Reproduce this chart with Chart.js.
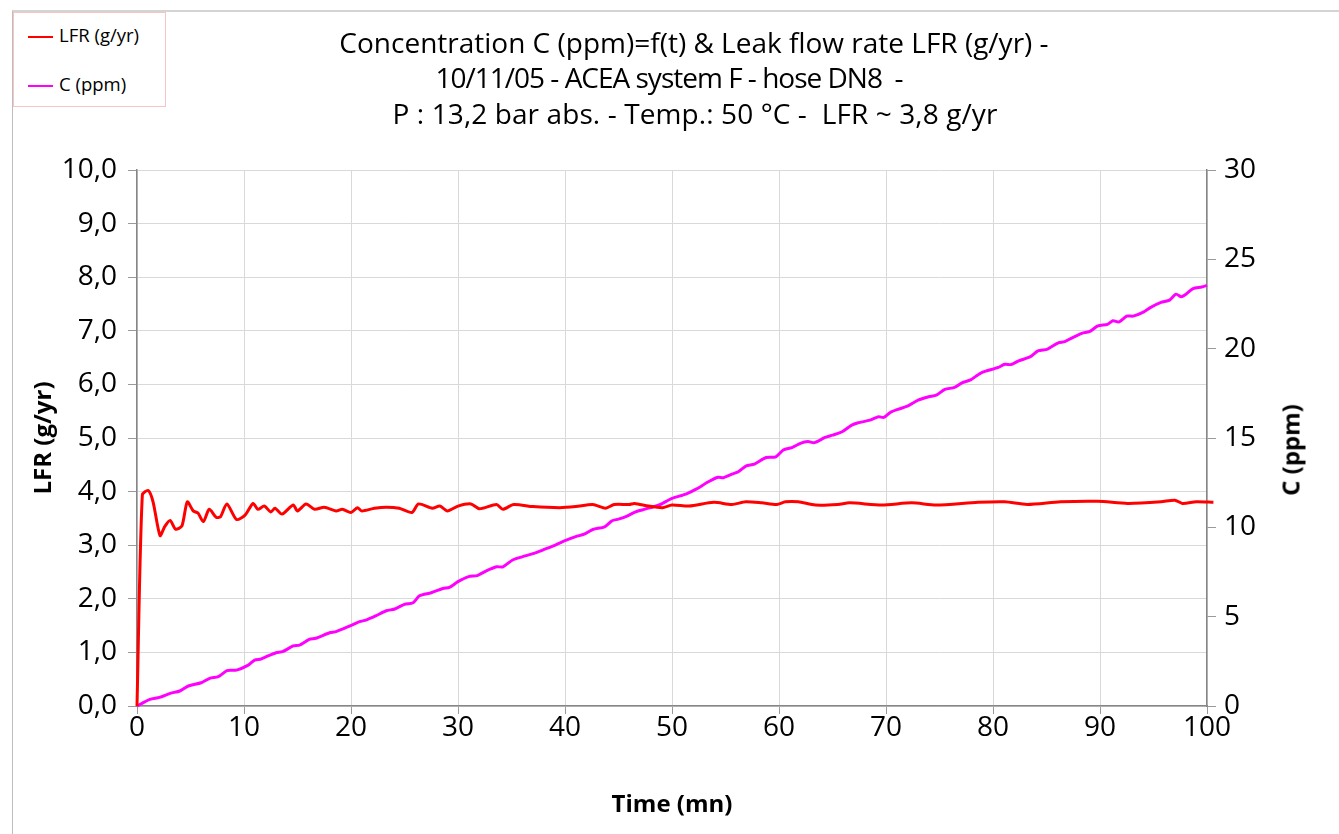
<!DOCTYPE html>
<html>
<head>
<meta charset="utf-8">
<script src="https://cdn.jsdelivr.net/npm/chart.js@4.4.1/dist/chart.umd.min.js"></script>
<style>
  html, body { margin: 0; padding: 0; background: #fff; }
  #wrap { position: relative; width: 1339px; height: 834px; overflow: hidden; font-family: "Open Sans", sans-serif; }
  #frame { position: absolute; left: 12px; top: 10px; right: -2px; bottom: -2px; border-top: 2px solid #d4d4d4; border-left: 1px solid #bdbdbd; }
  .tline { position: absolute; width: 1000px; text-align: center; font-size: 28px; line-height: 36px; color: #000; white-space: pre; }
  #legend { position: absolute; left: 13px; top: 12px; width: 151px; height: 93px; border: 1px solid #f6c4c4; background: #fff; }
  .item { position: absolute; left: 14px; font-size: 18.5px; line-height: 24px; color: #000; }
  .item span.sw { display: inline-block; width: 25px; height: 2.5px; vertical-align: middle; margin-right: 6px; }
  #ctitle { position: absolute; left: 1290px; top: 450px; transform: translate(-50%, -50%) rotate(-90deg); font-weight: bold; font-size: 24px; white-space: nowrap; }
  canvas { position: absolute; left: 0; top: 0; }
</style>
</head>
<body>
<div id="wrap">
  <div id="frame"></div>
  <canvas id="chart" width="1339" height="834"></canvas>
  <div class="tline" style="left: 194px; top: 24px;">Concentration C (ppm)=f(t) &amp; Leak flow rate LFR (g/yr) -</div>
  <div class="tline" style="left: 169px; top: 59px; letter-spacing: -1px;">10/11/05 - ACEA system F - hose DN8  -</div>
  <div class="tline" style="left: 195px; top: 95px; letter-spacing: 0.1px;">P : 13,2 bar abs. - Temp.: 50 °C -  LFR ~ 3,8 g/yr</div>
  <div id="legend">
    <div class="item" style="top: 10px;"><span class="sw" style="background:#ff0000"></span>LFR (g/yr)</div>
    <div class="item" style="top: 59px;"><span class="sw" style="background:#ff00ff"></span>C (ppm)</div>
  </div>
  <div id="ctitle">C (ppm)</div>
</div>
<script>
// time (mn) and leak flow rate LFR (g/yr)
const lfrTime = [
  0, 0.5, 1.05, 1.5, 2.15, 2.6, 3.1, 3.6, 4.2, 4.7,
  5.25, 5.7, 6.2, 6.75, 7.4, 7.8, 8.4, 9.3, 10.1, 10.85,
  11.3, 11.9, 12.5, 12.9, 13.55, 14.6, 15.0, 15.8, 16.6, 17.5,
  18.6, 19.2, 20.0, 20.6, 21.0, 22.2, 23.3, 24.5, 25.7, 26.3,
  27.6, 28.3, 29.0, 30.0, 31.2, 32.0, 33.6, 34.2, 35.2, 37.0,
  39.5, 41.0, 42.6, 43.8, 44.6, 46.0, 46.5, 47.8, 49.1, 50.0,
  51.6, 53.9, 55.6, 56.9, 58.4, 59.8, 60.6, 61.8, 63.4, 65.5,
  66.6, 69.6, 72.4, 74.7, 78.6, 81.1, 83.2, 86.3, 89.8, 92.6,
  95.7, 97.0, 97.7, 99.0, 100.6
];
const lfrValues = [
  0, 3.94, 4.02, 3.81, 3.18, 3.35, 3.46, 3.30, 3.36, 3.81,
  3.64, 3.60, 3.44, 3.67, 3.52, 3.53, 3.77, 3.48, 3.56, 3.78,
  3.67, 3.73, 3.62, 3.69, 3.58, 3.75, 3.64, 3.77, 3.67, 3.71,
  3.64, 3.67, 3.61, 3.70, 3.64, 3.69, 3.71, 3.69, 3.61, 3.77,
  3.69, 3.73, 3.64, 3.73, 3.77, 3.68, 3.76, 3.67, 3.76, 3.72,
  3.70, 3.72, 3.76, 3.69, 3.76, 3.76, 3.78, 3.73, 3.70, 3.75,
  3.73, 3.80, 3.76, 3.81, 3.79, 3.76, 3.81, 3.81, 3.75, 3.76,
  3.79, 3.75, 3.79, 3.75, 3.80, 3.81, 3.76, 3.81, 3.82, 3.78,
  3.81, 3.84, 3.78, 3.81, 3.80
];

// time (mn) and concentration C (ppm)
const cTime = [
  0, 1.2, 2.1, 3.1, 4.0, 4.8, 6.0, 6.8, 7.6, 8.4,
  9.3, 10.4, 11.0, 11.6, 12.1, 13.0, 13.6, 14.6, 15.2, 16.1,
  16.7, 18.0, 18.6, 19.9, 20.8, 21.4, 22.3, 23.3, 24.1, 25.0,
  25.8, 26.4, 27.5, 28.6, 29.2, 30.0, 31.0, 31.8, 32.6, 33.6,
  34.2, 35.1, 36.0, 37.1, 37.9, 39.1, 40.0, 41.0, 41.8, 42.6,
  43.7, 44.4, 45.0, 45.8, 46.6, 47.5, 48.8, 50.0, 51.3, 52.3,
  53.4, 54.3, 54.8, 55.6, 56.2, 56.9, 57.7, 58.8, 59.7, 60.4,
  61.2, 62.0, 62.7, 63.3, 64.3, 65.0, 65.9, 66.8, 67.4, 68.5,
  69.3, 69.8, 70.4, 71.1, 72.0, 73.0, 74.0, 74.7, 75.5, 76.4,
  77.1, 77.9, 78.9, 80.5, 81.1, 81.7, 82.4, 83.5, 84.2, 85.1,
  86.1, 86.7, 87.3, 88.3, 89.0, 89.8, 90.7, 91.2, 91.8, 92.5,
  93.1, 94.1, 94.7, 95.7, 96.5, 97.1, 97.6, 98.0, 98.7, 99.5,
  100.0, 100.7
];
const cValues = [
  0, 0.37, 0.48, 0.71, 0.84, 1.12, 1.30, 1.55, 1.64, 1.98,
  2.01, 2.29, 2.57, 2.63, 2.76, 2.98, 3.04, 3.36, 3.41, 3.73,
  3.79, 4.10, 4.16, 4.48, 4.72, 4.81, 5.04, 5.33, 5.43, 5.69,
  5.78, 6.17, 6.34, 6.58, 6.64, 6.96, 7.24, 7.30, 7.55, 7.79,
  7.79, 8.17, 8.35, 8.54, 8.73, 9.01, 9.25, 9.48, 9.62, 9.88,
  10.03, 10.37, 10.46, 10.63, 10.87, 11.02, 11.25, 11.62, 11.86, 12.15,
  12.55, 12.80, 12.78, 12.98, 13.11, 13.43, 13.54, 13.91, 13.95, 14.33,
  14.46, 14.70, 14.80, 14.74, 15.03, 15.16, 15.35, 15.72, 15.85, 16.00,
  16.19, 16.15, 16.43, 16.60, 16.78, 17.12, 17.31, 17.40, 17.72, 17.83,
  18.09, 18.25, 18.65, 18.95, 19.13, 19.11, 19.32, 19.55, 19.87, 19.98,
  20.33, 20.39, 20.58, 20.86, 20.95, 21.27, 21.36, 21.56, 21.50, 21.82,
  21.82, 22.06, 22.30, 22.59, 22.72, 23.05, 22.90, 23.03, 23.36, 23.45,
  23.55, 23.78
];

const xTicksMax = 100;
const lfrMax = 10;
const cMax = 30;

const tickFont = { family: 'Open Sans', size: 28 };
const titleFont = { family: 'Open Sans', size: 24, weight: 'bold' };

new Chart(document.getElementById('chart'), {
  type: 'line',
  data: {
    datasets: [
      {
        label: 'LFR (g/yr)',
        data: lfrTime.map((t, i) => ({ x: t, y: lfrValues[i] })),
        borderColor: '#ff0000',
        borderWidth: 3,
        pointRadius: 0,
        tension: 0.25,
        clip: false,
        yAxisID: 'y'
      },
      {
        label: 'C (ppm)',
        data: cTime.map((t, i) => ({ x: t, y: cValues[i] })),
        borderColor: '#ff00ff',
        borderWidth: 3,
        pointRadius: 0,
        tension: 0.25,
        clip: false,
        yAxisID: 'y1'
      }
    ]
  },
  options: {
    responsive: false,
    animation: false,
    layout: { padding: { top: 170, left: 0, right: 0, bottom: 0 } },
    plugins: { legend: { display: false }, tooltip: { enabled: false } },
    scales: {
      x: {
        type: 'linear',
        min: 0,
        max: xTicksMax,
        ticks: { stepSize: 10, color: '#000', font: tickFont, padding: -3, maxRotation: 0 },
        grid: { color: '#d9d9d9', tickColor: '#9a9a9a', tickLength: 8 },
        border: { color: '#868686', width: 1.5 },
        title: { display: true, text: 'Time (mn)', color: '#000', font: titleFont, padding: { top: 0, bottom: 14 } },
        afterFit: s => { s.height = 128; }
      },
      y: {
        position: 'left',
        min: 0,
        max: lfrMax,
        ticks: { stepSize: 1, color: '#000', font: tickFont, padding: 11, callback: v => v.toFixed(1).replace('.', ',') },
        grid: { color: '#d9d9d9', tickColor: '#9a9a9a', tickLength: 9 },
        border: { color: '#868686', width: 1.5 },
        title: { display: true, text: 'LFR (g/yr)', color: '#000', font: titleFont, padding: { top: 30, bottom: 0 } },
        afterFit: s => { s.width = 137; }
      },
      y1: {
        position: 'right',
        min: 0,
        max: cMax,
        ticks: { stepSize: 5, color: '#000', font: tickFont, padding: 8 },
        grid: { drawOnChartArea: false, tickColor: '#9a9a9a', tickLength: 9 },
        border: { color: '#868686', width: 1.5 },
        title: { display: false },
        afterFit: s => { s.width = 132; }
      }
    }
  }
});
</script>
</body>
</html>
